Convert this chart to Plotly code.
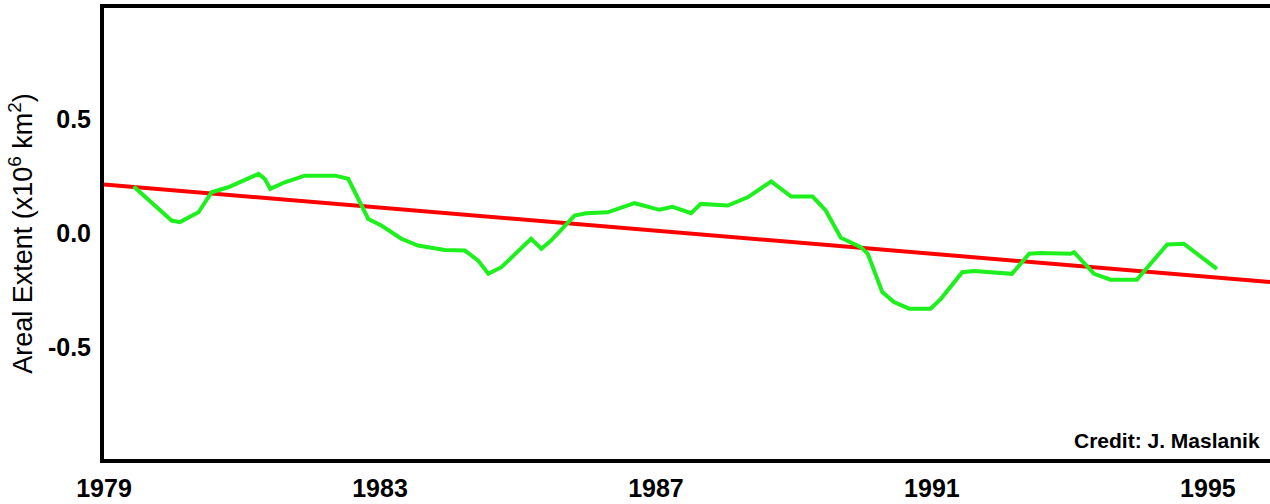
import plotly.graph_objects as go

# Green series: sea-ice areal extent anomaly (x10^6 km^2)
years = [1979.43, 1979.98, 1980.10, 1980.37, 1980.56, 1980.80, 1981.24, 1981.33, 1981.41,
         1981.62, 1981.91, 1982.35, 1982.54, 1982.69, 1982.83, 1983.02, 1983.31, 1983.55,
         1983.94, 1984.23, 1984.42, 1984.57, 1984.76, 1985.19, 1985.34, 1985.48, 1985.82,
         1985.99, 1986.30, 1986.69, 1987.05, 1987.24, 1987.51, 1987.65, 1988.04, 1988.33,
         1988.67, 1988.96, 1989.27, 1989.46, 1989.68, 1989.97, 1990.07, 1990.28, 1990.45,
         1990.67, 1990.98, 1991.13, 1991.44, 1991.61, 1992.16, 1992.41, 1992.57, 1993.01,
         1993.06, 1993.35, 1993.59, 1993.97, 1994.41, 1994.65, 1995.13]
extent = [0.206, 0.057, 0.050, 0.093, 0.181, 0.203, 0.262, 0.240, 0.196,
          0.225, 0.254, 0.254, 0.240, 0.145, 0.064, 0.035, -0.023, -0.053,
          -0.072, -0.075, -0.118, -0.177, -0.148, -0.023, -0.067, -0.031, 0.079,
          0.089, 0.093, 0.133, 0.104, 0.117, 0.089, 0.130, 0.123, 0.159,
          0.229, 0.162, 0.162, 0.101, -0.019, -0.060, -0.089, -0.257, -0.301,
          -0.330, -0.330, -0.287, -0.170, -0.165, -0.177, -0.089, -0.086, -0.089,
          -0.082, -0.177, -0.203, -0.203, -0.048, -0.045, -0.155]

# Red series: linear trend
trend_years = [1979.0, 1995.9]
trend_vals = [0.215, -0.213]

x_ticks = [1979, 1983, 1987, 1991, 1995]
y_ticks = [-0.5, 0.0, 0.5]
y_tick_labels = ["-0.5", "0.0", "0.5"]

fig = go.Figure()
fig.add_trace(go.Scatter(x=trend_years, y=trend_vals, mode="lines",
                         line=dict(color="#FF0000", width=4), hoverinfo="skip"))
fig.add_trace(go.Scatter(x=years, y=extent, mode="lines",
                         line=dict(color="#1EF01E", width=4), hoverinfo="skip"))

font_family = "Liberation Sans, Arial, sans-serif"
fig.update_layout(
    width=1270, height=504,
    margin=dict(l=104, r=0, t=8, b=45),
    paper_bgcolor="white", plot_bgcolor="white",
    showlegend=False,
    font=dict(family=font_family, color="black"),
    xaxis=dict(range=[1979, 1995.9], tickvals=x_ticks, ticktext=[str(v) for v in x_ticks],
               showgrid=False, zeroline=False, showline=True, linecolor="black",
               linewidth=4, mirror=True, ticks="", ticklabelstandoff=4, automargin=False,
               tickfont=dict(size=25, family=font_family, weight="bold")),
    yaxis=dict(range=[-0.99, 0.99], tickvals=y_ticks, ticktext=y_tick_labels,
               showgrid=False, zeroline=False, showline=True, linecolor="black",
               linewidth=4, ticks="", ticklabelstandoff=4, automargin=False,
               tickfont=dict(size=25, family=font_family, weight="bold"),
               title=dict(text="Areal Extent (x10<sup>6</sup> km<sup>2</sup>)",
                          font=dict(size=27, family=font_family), standoff=8)),
    annotations=[dict(text="<b>Credit: J. Maslanik</b>", xref="paper", yref="paper",
                      x=0.993, y=0.04, xanchor="right", yanchor="middle", showarrow=False,
                      font=dict(size=21, family=font_family, color="black"))],
)

fig.write_html("out.html", config={"displayModeBar": False},
               post_script="document.body.style.margin='0';")
